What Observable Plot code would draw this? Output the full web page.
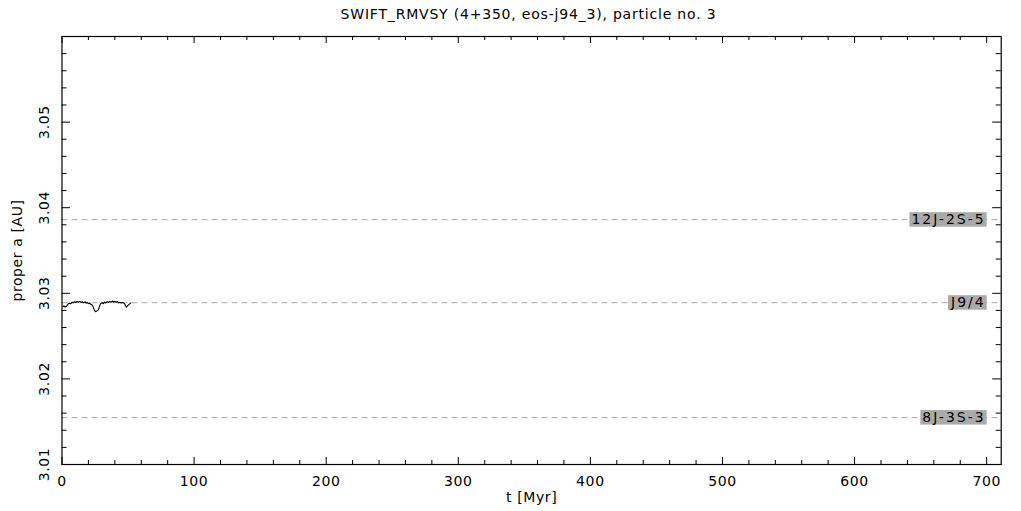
<!DOCTYPE html>
<html><head><meta charset="utf-8">
<script src="https://cdn.jsdelivr.net/npm/d3@7"></script>
<script src="https://cdn.jsdelivr.net/npm/@observablehq/plot@0.6"></script>
<style>
body{margin:0;background:#fff;font-family:"DejaVu Sans",sans-serif;}
#title{height:30px;line-height:28px;text-align:center;font-size:14px;color:#000;width:1021px;text-indent:36px;letter-spacing:0.8px;}
svg{display:block;}
</style></head>
<body>
<div id="title">SWIFT_RMVSY (4+350, eos-j94_3), particle no. 3</div>
<div id="chart"></div>
<script>
// time series: proper semimajor axis vs time
const tMyr = [0.8,1.5,2.5,3.4,4.5,5.5,6.5,7.7,8.5,9.5,10.5,11.5,12.5,13.5,14.5,15.5,16.5,17.5,18.3,19.1,20.0,21.0,22.0,22.9,23.8,24.6,25.4,26.3,27.4,28.3,29.2,30.4,31.3,32.2,33.2,34.2,35.2,36.2,37.2,38.2,39.0,40.0,41.0,42.0,42.8,43.8,44.8,45.7,46.6,47.4,48.2,48.8,49.5,50.3,51.2,52.0];
const properA = [3.02845,3.02852,3.02840,3.02848,3.02872,3.02885,3.02878,3.02897,3.02888,3.02902,3.02893,3.02904,3.02896,3.02906,3.02893,3.02901,3.02888,3.02900,3.02885,3.02893,3.02878,3.02886,3.02868,3.02862,3.02833,3.02800,3.02785,3.02792,3.02805,3.02842,3.02876,3.02892,3.02878,3.02896,3.02888,3.02903,3.02893,3.02906,3.02896,3.02909,3.02898,3.02906,3.02895,3.02904,3.02888,3.02896,3.02886,3.02893,3.02889,3.02878,3.02853,3.02838,3.02852,3.02865,3.02877,3.02886];
// resonances
const resNames = ["12J-2S-5","J9/4","8J-3S-3"];
const resA = [3.0386,3.0289,3.01548];
// ticks
const xMajor = [0,100,200,300,400,500,600,700];
const xMinor = [20,40,60,80,120,140,160,180,220,240,260,280,320,340,360,380,420,440,460,480,520,540,560,580,620,640,660,680];
const yMajor = [3.01,3.02,3.03,3.04,3.05];
const yMinor = [3.012,3.014,3.016,3.018,3.022,3.024,3.026,3.028,3.032,3.034,3.036,3.038,3.042,3.044,3.046,3.048,3.052,3.054,3.056,3.058];
const xDomain = [0,711];
const yDomain = [3.01,3.06];

const series = tMyr.map((t,i)=>({t, a: properA[i]}));
const res = resNames.map((n,i)=>({name:n, a: resA[i]}));

const W = 1021, H = 481, mT = 6, mB = 47, mL = 61.5, mR = 20.3;
const pH = H - mT - mB, pW = W - mL - mR;

const chart = Plot.plot({
  width: W, height: H,
  marginTop: mT, marginBottom: mB, marginLeft: mL, marginRight: mR,
  x: {domain: xDomain, axis: null},
  y: {domain: yDomain, axis: null},
  style: {fontFamily: "DejaVu Sans", fontSize: "14px", background: "#fff", color: "#000", letterSpacing: "0.6px"},
  marks: [
    Plot.ruleY(res, {y: "a", stroke: "#aaa", strokeDasharray: "6,4", strokeWidth: 1}),
    Plot.text(res, {y: "a", x: () => 700, text: "name", textAnchor: "end", dx: -1, fill: "#000", fontSize: 14}),
    Plot.line(series, {x: "t", y: "a", stroke: "#000", strokeWidth: 1.1}),
    // ticks bottom/top
    Plot.tickX(xMajor, {x: d=>d, insetTop: pH-7, stroke:"#000"}),
    Plot.tickX(xMinor, {x: d=>d, insetTop: pH-4, stroke:"#000"}),
    Plot.tickX(xMajor, {x: d=>d, insetBottom: pH-7, stroke:"#000"}),
    Plot.tickX(xMinor, {x: d=>d, insetBottom: pH-4, stroke:"#000"}),
    // ticks left/right
    Plot.tickY(yMajor, {y: d=>d, insetRight: pW-8.5, stroke:"#000"}),
    Plot.tickY(yMinor, {y: d=>d, insetRight: pW-5, stroke:"#000"}),
    Plot.tickY(yMajor, {y: d=>d, insetLeft: pW-8.5, stroke:"#000"}),
    Plot.tickY(yMinor, {y: d=>d, insetLeft: pW-5, stroke:"#000"}),
    // tick labels
    Plot.text(xMajor, {x: d=>d, frameAnchor: "bottom", text: d=>String(d), dy: 17, lineAnchor: "middle", fill:"#000"}),
    Plot.text(yMajor, {y: d=>d, frameAnchor: "left", text: d=>d.toFixed(2), rotate: -90, dx: -17.5, textAnchor: "middle", lineAnchor: "middle", fill:"#000"}),
    // axis labels
    Plot.text(["t [Myr]"], {frameAnchor: "bottom", text: d=>d, dy: 33, lineAnchor: "middle", fill:"#000"}),
    Plot.text(["proper a [AU]"], {frameAnchor: "left", text: d=>d, rotate: -90, dx: -44, textAnchor: "middle", lineAnchor: "middle", fill:"#000"}),
    Plot.frame({stroke: "#000", strokeWidth: 1.2})
  ]
});
document.getElementById("chart").appendChild(chart);

// gray label boxes behind resonance names
const svg = d3.select(chart);
svg.selectAll("text").each(function(){
  if (resNames.includes(this.textContent)) this.setAttribute("letter-spacing", "2px");
});
svg.selectAll("text").each(function(){
  if (resNames.includes(this.textContent)) {
    const bb = this.getBBox();
    const g = this.parentNode;
    const rect = document.createElementNS("http://www.w3.org/2000/svg","rect");
    const tr = this.getAttribute("transform");
    if (tr) rect.setAttribute("transform", tr);
    rect.setAttribute("x", bb.x - 2);
    rect.setAttribute("y", bb.y + 1);
    rect.setAttribute("width", bb.width + 3);
    rect.setAttribute("height", bb.height - 1.5);
    rect.setAttribute("fill", "#aaa");
    g.insertBefore(rect, g.firstChild);
  }
});
</script>
</body></html>
